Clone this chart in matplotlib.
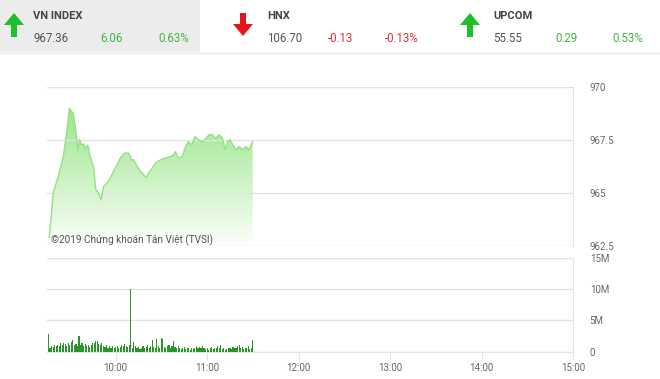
import numpy as np
import matplotlib
matplotlib.use("Agg")
import matplotlib.pyplot as plt
from matplotlib.patches import Polygon, Rectangle
from matplotlib.colors import LinearSegmentedColormap

plt.rcParams['font.family'] = ['Roboto', 'DejaVu Sans']

# header boxes: name, value, change, percent
names = ["VN INDEX", "HNX", "UPCOM"]
values = ["967.36", "106.70", "55.55"]
changes = ["6.06", "-0.13", "0.29"]
percents = ["0.63%", "-0.13%", "0.53%"]

# VN-Index intraday, minutes after 9:00
price_min = [16.5, 18.0, 19.1, 22.4, 25.7, 27.9, 29.7, 31.2, 32.3, 33.8, 35.2, 36.3, 37.8,
             38.9, 40.0, 41.8, 43.3, 45.5, 47.0, 48.8, 50.5, 52.1, 54.3, 56.5, 59.8,
             63.1, 65.9, 68.6, 70.3, 71.9, 74.1, 76.3, 78.5, 80.0, 81.8, 84.0, 86.2,
             89.5, 92.8, 96.1, 98.2, 99.3, 101.1, 103.7, 105.9, 107.7, 109.9, 112.1,
             114.3, 116.9, 119.1, 121.3, 123.5, 125.7, 127.9, 130.1, 131.9, 133.4,
             134.9, 137.1, 138.9, 141.1, 143.3, 145.5, 147.3, 149.9]
price = [962.87, 964.06, 965.00, 965.77, 966.71, 967.83, 969.00, 968.84, 968.75, 967.97,
         967.03, 967.50, 967.25, 967.32, 967.10, 967.25, 966.70, 966.24, 965.14, 964.98,
         964.67, 965.30, 965.45, 965.70, 966.17, 966.64, 966.87, 966.87, 966.56, 966.56,
         966.24, 966.00, 965.85, 965.70, 965.95, 966.17, 966.40, 966.56, 966.64, 966.71,
         966.80, 966.95, 966.64, 966.71, 967.18, 967.42, 967.25, 967.65, 967.50, 967.40,
         967.57, 967.74, 967.74, 967.57, 967.74, 967.57, 967.03, 967.42, 967.50, 967.25,
         967.03, 967.18, 967.03, 967.18, 967.03, 967.42]

# volume per minute (millions), 9:16 .. 11:30
vol_min = list(range(16, 151))
volume = [2.8, 0.6, 0.9, 0.7, 1.0, 0.8, 1.1, 0.9, 1.3, 1.0, 1.4, 1.2, 0.9, 1.3, 1.1,
          1.5, 1.8, 1.0, 1.2, 0.8, 2.5, 1.1, 1.3, 0.9, 1.2, 0.8, 1.0, 0.7, 1.1, 1.3,
          1.4, 1.6, 1.7, 1.2, 1.0, 1.3, 0.9, 0.7, 1.0, 0.6, 0.9, 0.5, 0.8, 0.6, 0.7,
          0.9, 0.5, 0.7, 1.0, 0.8, 1.2, 0.9, 0.7, 1.0, 9.9, 0.6, 1.5, 0.8, 0.5, 0.7,
          0.4, 0.6, 0.8, 0.5, 0.7, 1.0, 0.6, 0.9, 1.8, 0.7, 0.5, 2.0, 0.8, 0.6, 2.2,
          2.0, 0.7, 0.5, 0.9, 1.1, 0.6, 0.8, 1.6, 0.7, 0.5, 0.8, 0.6, 0.4, 0.5, 0.7,
          0.4, 0.5, 0.6, 0.3, 0.5, 0.4, 0.6, 0.8, 0.5, 0.7, 0.6, 0.9, 0.5, 0.4, 0.6,
          0.3, 0.5, 0.7, 0.4, 0.6, 0.5, 0.8, 0.6, 1.0, 0.4, 0.5, 0.3, 0.4, 0.6, 0.5,
          0.4, 0.7, 0.5, 0.6, 0.8, 1.0, 0.5, 0.7, 0.4, 0.6, 0.5, 0.8, 0.4, 0.6, 1.8]

hour_ticks = [60, 120, 180, 240, 300, 360]
hour_labels = ["10:00", "11:00", "12:00", "13:00", "14:00", "15:00"]
price_ticks = [962.5, 965, 967.5, 970]
vol_ticks = [0, 5, 10, 15]
vol_labels = ["0", "5M", "10M", "15M"]

W, H = 660, 379
fig = plt.figure(figsize=(W / 100, H / 100), dpi=100)
fig.patch.set_facecolor("white")

grid_c = "#e3e3e3"
lab_c = "#666666"
green = "#3fb83f"
red = "#d9303a"


def px_axes(x0, y0, x1, y1):
    return fig.add_axes([x0 / W, 1 - y1 / H, (x1 - x0) / W, (y1 - y0) / H])


# ---- price panel
ax = px_axes(47, 87, 573, 245.5)
ax.set_xlim(15, 360)
ax.set_ylim(962.5, 970)
cmap = LinearSegmentedColormap.from_list("g", ["#ffffff", "#d3f4cb", "#9be58b"])
grad = np.linspace(0, 1, 256).reshape(-1, 1) ** 0.8
img = ax.imshow(grad, cmap=cmap, aspect="auto", origin="lower",
                extent=[15, 360, 962.5, 969.0], zorder=1)
poly = ax.fill_between(price_min, price, 962.5, color="none", lw=0)
clip = Polygon(poly.get_paths()[0].vertices, closed=True, transform=ax.transData)
img.set_clip_path(clip)
ax.plot(price_min, price, color="#93e283", lw=1.0, zorder=3)
ax.set_yticks(price_ticks)
ax.set_yticklabels(["962.5", "965", "967.5", "970"])
ax.grid(axis="y", color=grid_c, lw=1)
ax.set_xticks([])
ax.yaxis.tick_right()
ax.tick_params(axis="y", length=0, pad=12, labelsize=7, labelcolor=lab_c)
for s in ["left", "top", "bottom"]:
    ax.spines[s].set_visible(False)
ax.spines["right"].set_color(grid_c)
ax.text(17.5, 962.75, "©2019 Chứng khoán Tân Việt (TVSI)", fontsize=7.2,
        color="#555555", va="center", ha="left", zorder=4)

# ---- volume panel
av = px_axes(47, 257.5, 573, 351.5)
av.set_xlim(15, 360)
av.set_ylim(0, 15)
av.bar(vol_min, volume, width=0.75, color="#2a962a", zorder=3)
av.set_yticks(vol_ticks)
av.set_yticklabels(vol_labels)
av.grid(axis="y", color=grid_c, lw=1)
av.yaxis.tick_right()
av.tick_params(axis="y", length=0, pad=12, labelsize=7, labelcolor=lab_c)
av.set_xticks(hour_ticks)
av.set_xticklabels(hour_labels)
av.tick_params(axis="x", length=6, color=grid_c, labelsize=7, labelcolor=lab_c, pad=2)
for s in ["left", "top"]:
    av.spines[s].set_visible(False)
av.spines["right"].set_color(grid_c)
av.spines["bottom"].set_color(grid_c)

# ---- header
hd = fig.add_axes([0, 0, 1, 1], zorder=-1)
hd.set_xlim(0, W)
hd.set_ylim(H, 0)
hd.axis("off")
hd.add_patch(Rectangle((0, 0), 200, 52, color="#ececec", lw=0))
hd.plot([0, W], [52.5, 52.5], color="#e6e6e6", lw=1)

ov = fig.add_axes([0, 0, 1, 1], zorder=5)
ov.set_xlim(0, W)
ov.set_ylim(H, 0)
ov.axis("off")
ov.patch.set_alpha(0)


def arrow(cx, up, color):
    if up:
        pts = [(cx - 10, 25), (cx, 13), (cx + 10, 25), (cx + 3, 25), (cx + 3, 37),
               (cx - 3, 37), (cx - 3, 25)]
    else:
        pts = [(cx - 10, 24), (cx, 36), (cx + 10, 24), (cx + 3, 24), (cx + 3, 13),
               (cx - 3, 13), (cx - 3, 24)]
    ov.add_patch(Polygon(pts, closed=True, color=color, lw=0))


arrow_x = [14, 243, 470]
text_x = [33, 267, 493]
chg_x = [100, 328, 555]
pct_x = [158, 385, 612]
for i in range(3):
    up = not changes[i].startswith("-")
    col = "#1fbf29" if up else "#e8141c"
    arrow(arrow_x[i], up, col)
    tc = green if up else red
    ov.text(text_x[i], 16, names[i], fontsize=8, fontweight="bold", color="#444444",
            va="center", ha="left")
    ov.text(text_x[i], 39, values[i], fontsize=8.3, color="#555555", va="center", ha="left")
    ov.text(chg_x[i], 39, changes[i], fontsize=8.3, color=tc, va="center", ha="left")
    ov.text(pct_x[i], 39, percents[i], fontsize=8.3, color=tc, va="center", ha="left")

fig.savefig("out.png", dpi=100)
